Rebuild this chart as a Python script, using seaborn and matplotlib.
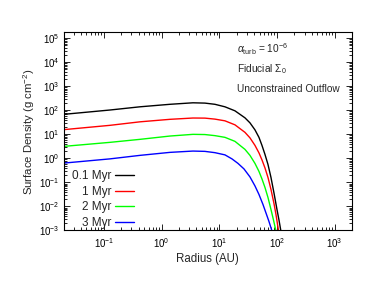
import numpy as np
import pandas as pd
import matplotlib
matplotlib.use("Agg")
import matplotlib.pyplot as plt
import seaborn as sns
from matplotlib.ticker import LogLocator, NullFormatter

# ---- data ----
ages = ["0.1 Myr", "1 Myr", "2 Myr", "3 Myr"]
colors = ["#000000", "#ff0000", "#00ff00", "#0000ff"]

r_01 = [0.02035, 0.1276, 0.4222, 1.398, 3.501, 5.651, 8.425, 12.56, 18.71, 27.88, 34.05,
        41.56, 48.75, 54.95, 61.94, 69.82, 78.71, 88.72, 100.0, 108.3, 117.3]
s_01 = [68.1, 102.9, 139.9, 177.8, 205.4, 199.5, 177.8, 139.9, 95.3, 48.7, 30.1,
        15.4, 7.50, 3.48, 1.468, 0.562, 0.1616, 0.0365, 0.0075, 0.00274, 0.000909]

r_1 = [0.02035, 0.1276, 0.4222, 1.398, 3.501, 5.651, 8.425, 12.56, 18.71, 27.88, 34.05,
       41.56, 48.75, 54.95, 61.94, 69.82, 78.71, 88.72, 96.09, 106.2]
s_1 = [15.70, 23.71, 33.18, 42.17, 47.77, 47.32, 42.99, 36.52, 24.88, 12.12, 7.15,
       3.48, 1.695, 0.866, 0.402, 0.1616, 0.0511, 0.01334, 0.00464, 0.001]

r_2 = [0.02035, 0.1276, 0.4222, 1.398, 3.501, 5.651, 8.425, 12.56, 18.71, 27.88, 34.05,
       41.56, 48.75, 54.95, 61.94, 69.82, 78.71, 86.97, 96.09]
s_2 = [3.162, 4.642, 6.19, 8.50, 10.0, 9.81, 8.83, 7.50, 5.11, 2.371, 1.334,
       0.619, 0.2873, 0.1399, 0.0619, 0.0237, 0.0075, 0.00274, 0.000953]

r_3 = [0.02035, 0.1276, 0.4222, 1.398, 3.501, 5.651, 8.425, 12.56, 16.60, 21.10, 26.80,
       34.05, 41.56, 48.75, 57.19, 64.48, 72.67, 81.89]
s_3 = [0.637, 0.953, 1.334, 1.778, 2.015, 1.957, 1.728, 1.399, 0.953, 0.619, 0.365,
       0.1695, 0.0715, 0.0316, 0.01212, 0.00536, 0.00237, 0.000953]

x_ticks = [1e-1, 1e0, 1e1, 1e2, 1e3]
y_ticks = [1e-3, 1e-2, 1e-1, 1e0, 1e1, 1e2, 1e3, 1e4, 1e5]

df = pd.concat([
    pd.DataFrame({"Radius": r, "Sigma": s, "Age": a})
    for r, s, a in zip([r_01, r_1, r_2, r_3], [s_01, s_1, s_2, s_3], ages)
], ignore_index=True)

sns.set_style("ticks")
plt.rcParams["font.family"] = ["Liberation Sans", "DejaVu Sans"]
plt.rcParams["mathtext.fontset"] = "custom"
plt.rcParams["mathtext.rm"] = "Liberation Sans"
plt.rcParams["mathtext.it"] = "Liberation Sans:italic"
plt.rcParams["axes.edgecolor"] = "black"
plt.rcParams["xtick.color"] = "black"
plt.rcParams["ytick.color"] = "black"

fig = plt.figure(figsize=(3.74, 2.89), dpi=100)
ax = fig.add_axes([0.171, 0.2025, 0.769, 0.6865])

sns.lineplot(data=df, x="Radius", y="Sigma", hue="Age", hue_order=ages,
             palette=colors, estimator=None, sort=False, lw=1.0, ax=ax)

ax.set_xscale("log")
ax.set_yscale("log")
ax.set_xlim(0.0204, 1960)
ax.set_ylim(1e-3, 1.8e5)

ax.xaxis.set_major_locator(LogLocator(base=10, numticks=20))
ax.xaxis.set_minor_locator(LogLocator(base=10, subs=np.arange(2, 10), numticks=20))
ax.yaxis.set_major_locator(LogLocator(base=10, numticks=20))
ax.yaxis.set_minor_locator(LogLocator(base=10, subs=np.arange(2, 10), numticks=20))
ax.xaxis.set_minor_formatter(NullFormatter())
ax.yaxis.set_minor_formatter(NullFormatter())
ax.set_xticks(x_ticks)
ax.set_yticks(y_ticks)

ax.tick_params(which="both", direction="in", top=True, right=True, labelsize=7, width=0.6)
ax.tick_params(which="major", length=4, pad=4)
ax.tick_params(axis="y", which="major", pad=3)
ax.tick_params(which="minor", length=2)
for sp in ax.spines.values():
    sp.set_linewidth(0.8)

ax.set_xlabel("Radius (AU)", fontsize=8.3, labelpad=2)
ax.set_ylabel("Surface Density (g cm$^{-2}$)", fontsize=8.2)
ax.yaxis.set_label_coords(-0.092, 0.5)

ax.text(0.60, 0.894, r"$\alpha_{\rm turb}$ = 10$^{-6}$", transform=ax.transAxes,
        fontsize=7.3, va="baseline", ha="left")
ax.text(0.60, 0.800, r"Fiducial $\Sigma_0$", transform=ax.transAxes,
        fontsize=7.3, va="baseline", ha="left")
ax.text(0.60, 0.698, "Unconstrained Outflow", transform=ax.transAxes,
        fontsize=7.3, va="baseline", ha="left")

sns.move_legend(ax, "lower left", bbox_to_anchor=(0.027, 0.008), title=None,
                frameon=False, markerfirst=False, fontsize=8.5, handlelength=1.55,
                handletextpad=0.35, labelspacing=0.3, borderpad=0, borderaxespad=0)

fig.savefig("out.png", dpi=100)
